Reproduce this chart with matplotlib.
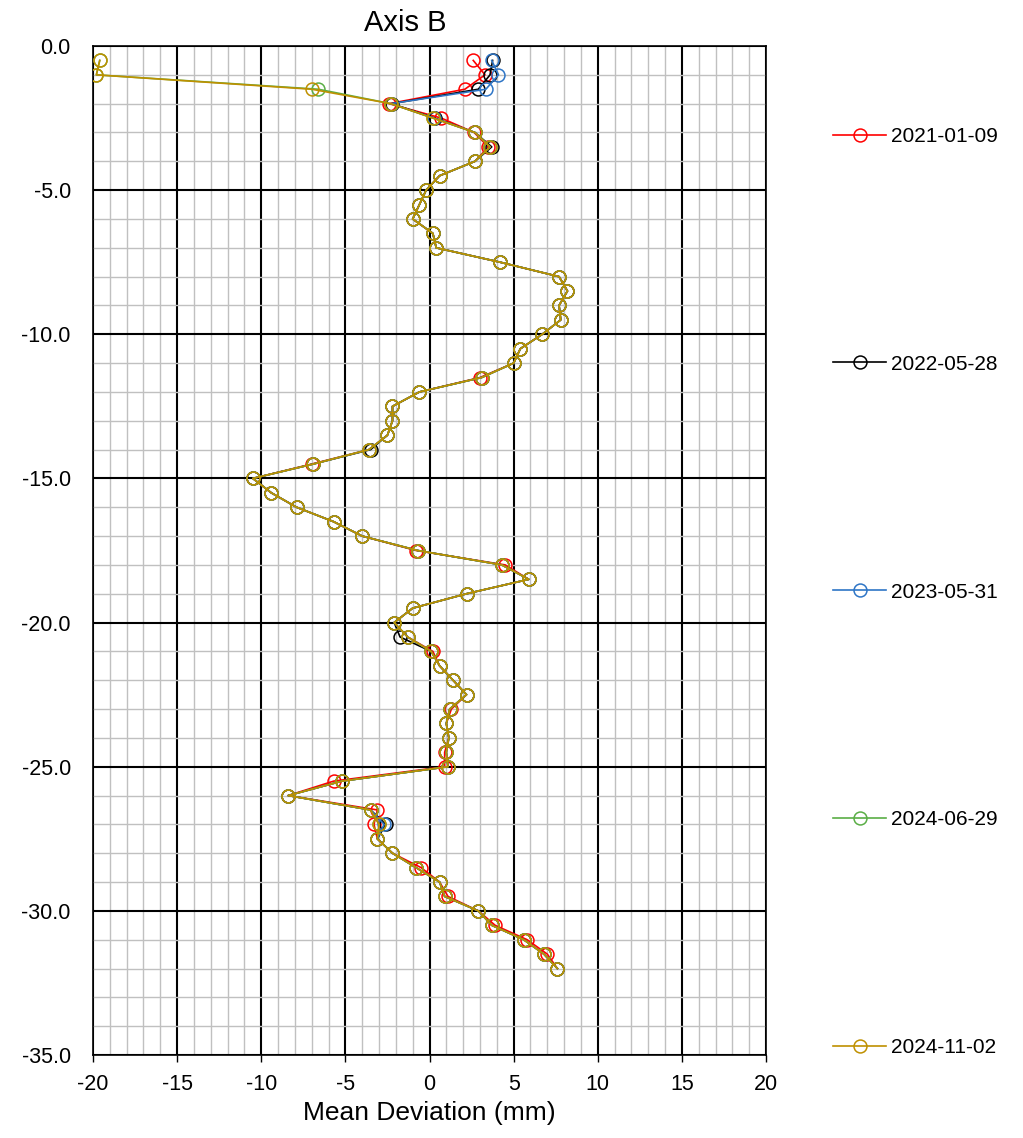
import matplotlib
matplotlib.use('Agg')
import matplotlib.pyplot as plt
from matplotlib.lines import Line2D
from matplotlib.ticker import MultipleLocator, FormatStrFormatter

plt.rcParams['font.family'] = ['Liberation Sans', 'DejaVu Sans']
plt.rcParams['axes.unicode_minus'] = False

OUTPUT_FILE = 'out.png'

# depth below top (m)
DEPTH = [-0.5, -1.0, -1.5, -2.0, -2.5, -3.0, -3.5, -4.0, -4.5, -5.0,
         -5.5, -6.0, -6.5, -7.0, -7.5, -8.0, -8.5, -9.0, -9.5, -10.0,
         -10.5, -11.0, -11.5, -12.0, -12.5, -13.0, -13.5, -14.0, -14.5, -15.0,
         -15.5, -16.0, -16.5, -17.0, -17.5, -18.0, -18.5, -19.0, -19.5, -20.0,
         -20.5, -21.0, -21.5, -22.0, -22.5, -23.0, -23.5, -24.0, -24.5, -25.0,
         -25.5, -26.0, -26.5, -27.0, -27.5, -28.0, -28.5, -29.0, -29.5, -30.0,
         -30.5, -31.0, -31.5, -32.0]

# mean deviation (mm) per survey
DEV_2021_01_09 = [2.6, 3.3, 2.1, -2.4, 0.7, 2.65, 3.5, 2.7, 0.6, -0.2,
                  -0.6, -1.0, 0.2, 0.4, 4.2, 7.7, 8.2, 7.7, 7.8, 6.7,
                  5.4, 5.0, 3.0, -0.6, -2.2, -2.2, -2.5, -3.6, -7.0, -10.5,
                  -9.4, -7.9, -5.7, -4.0, -0.8, 4.5, 5.9, 2.2, -1.0, -2.1,
                  -1.3, 0.2, 0.6, 1.4, 2.2, 1.3, 1.0, 1.15, 0.9, 0.9,
                  -5.7, -8.4, -3.1, -3.3, -3.1, -2.2, -0.5, 0.6, 1.1, 2.9,
                  3.9, 5.8, 7.0, 7.6]

DEV_2022_05_28 = [3.75, 3.6, 2.9, -2.25, 0.3, 2.7, 3.7, 2.7, 0.6, -0.2,
                  -0.6, -1.0, 0.2, 0.4, 4.2, 7.7, 8.2, 7.7, 7.8, 6.7,
                  5.4, 5.0, 3.1, -0.6, -2.2, -2.2, -2.5, -3.5, -6.9, -10.5,
                  -9.4, -7.9, -5.7, -4.0, -0.7, 4.3, 5.9, 2.2, -1.0, -2.1,
                  -1.75, 0.1, 0.6, 1.4, 2.2, 1.2, 1.0, 1.15, 1.0, 1.1,
                  -5.2, -8.4, -3.5, -2.6, -3.1, -2.2, -0.8, 0.6, 0.9, 2.9,
                  3.7, 5.6, 6.8, 7.6]

DEV_2023_05_31 = [3.7, 4.1, 3.35, -2.3, 0.25, 2.7, 3.6, 2.7, 0.6, -0.2,
                  -0.6, -1.0, 0.2, 0.4, 4.2, 7.7, 8.2, 7.7, 7.8, 6.7,
                  5.4, 5.0, 3.1, -0.6, -2.2, -2.2, -2.5, -3.6, -6.9, -10.5,
                  -9.4, -7.9, -5.7, -4.0, -0.7, 4.3, 5.9, 2.2, -1.0, -2.1,
                  -1.3, 0.1, 0.6, 1.4, 2.2, 1.2, 1.0, 1.15, 1.0, 1.1,
                  -5.2, -8.4, -3.5, -2.7, -3.1, -2.2, -0.8, 0.6, 0.9, 2.9,
                  3.7, 5.6, 6.8, 7.6]

DEV_2024_06_29 = [-19.6, -19.8, -6.6, -2.3, 0.2, 2.7, 3.6, 2.7, 0.6, -0.2,
                  -0.6, -1.0, 0.2, 0.4, 4.2, 7.7, 8.2, 7.7, 7.8, 6.7,
                  5.4, 5.0, 3.1, -0.6, -2.2, -2.2, -2.5, -3.6, -6.9, -10.5,
                  -9.4, -7.9, -5.7, -4.0, -0.7, 4.3, 5.9, 2.2, -1.0, -2.1,
                  -1.3, 0.1, 0.6, 1.4, 2.2, 1.2, 1.0, 1.15, 1.0, 1.1,
                  -5.2, -8.4, -3.5, -3.0, -3.1, -2.2, -0.8, 0.6, 0.9, 2.9,
                  3.7, 5.6, 6.8, 7.6]

DEV_2024_11_02 = [-19.6, -19.8, -7.0, -2.3, 0.2, 2.7, 3.6, 2.7, 0.6, -0.2,
                  -0.6, -1.0, 0.2, 0.4, 4.2, 7.7, 8.2, 7.7, 7.8, 6.7,
                  5.4, 5.0, 3.1, -0.6, -2.2, -2.2, -2.5, -3.6, -6.9, -10.5,
                  -9.4, -7.9, -5.7, -4.0, -0.7, 4.3, 5.9, 2.2, -1.0, -2.1,
                  -1.3, 0.1, 0.6, 1.4, 2.2, 1.2, 1.0, 1.15, 1.0, 1.1,
                  -5.2, -8.4, -3.5, -3.0, -3.1, -2.2, -0.8, 0.6, 0.9, 2.9,
                  3.7, 5.6, 6.8, 7.6]

LABELS = ['2021-01-09', '2022-05-28', '2023-05-31', '2024-06-29', '2024-11-02']
COLORS = ['#FF0000', '#000000', '#2E75C6', '#5AAE46', '#BF9000']

SERIES = [DEV_2021_01_09, DEV_2022_05_28, DEV_2023_05_31, DEV_2024_06_29, DEV_2024_11_02]

W, H = 1023, 1138
fig = plt.figure(figsize=(W / 100, H / 100), dpi=100)
ax = fig.add_axes([93 / W, 1 - 1055 / H, (766 - 93) / W, (1055 - 46) / H])

for vals, color in zip(SERIES, COLORS):
    ax.plot(vals, DEPTH, color=color, linewidth=1.2, marker='o', markersize=9.3,
            markerfacecolor='none', markeredgecolor=color, markeredgewidth=1.1,
            zorder=3)

ax.set_xlim(-20, 20)
ax.set_ylim(-35, 0)
ax.xaxis.set_major_locator(MultipleLocator(5))
ax.xaxis.set_minor_locator(MultipleLocator(1))
ax.yaxis.set_major_locator(MultipleLocator(5))
ax.yaxis.set_minor_locator(MultipleLocator(1))
ax.yaxis.set_major_formatter(FormatStrFormatter('%.1f'))

ax.grid(which='minor', color='#C0C0C0', linewidth=1.0)
ax.grid(which='major', color='#000000', linewidth=1.5)
ax.set_axisbelow(True)
for sp in ax.spines.values():
    sp.set_color('black')
    sp.set_linewidth(1.2)

ax.tick_params(axis='x', which='major', direction='out', length=5, width=1,
               labelsize=15.5, pad=9)
ax.tick_params(axis='y', which='major', length=0, labelsize=15.5, pad=16)
ax.tick_params(which='minor', length=0)

ax.set_xlabel('Mean Deviation (mm)', fontsize=19, labelpad=4)
# title sits a little left of the plot centre, as in the original sheet
ax.set_title('Axis B', fontsize=21, pad=11, x=0.4636)

handles = [Line2D([], [], color=c, linewidth=1.2, marker='o', markersize=9.3,
                  markerfacecolor='none', markeredgecolor=c, markeredgewidth=1.1)
           for c in COLORS]
fig.legend(handles, LABELS, loc='upper left',
           bbox_to_anchor=(833 / W, 1 - 127 / H), frameon=False,
           borderpad=0, borderaxespad=0, labelspacing=10.02,
           handlelength=2.55, handletextpad=0.24, fontsize=15)

plt.savefig(OUTPUT_FILE, dpi=100, facecolor='white')
plt.close()
